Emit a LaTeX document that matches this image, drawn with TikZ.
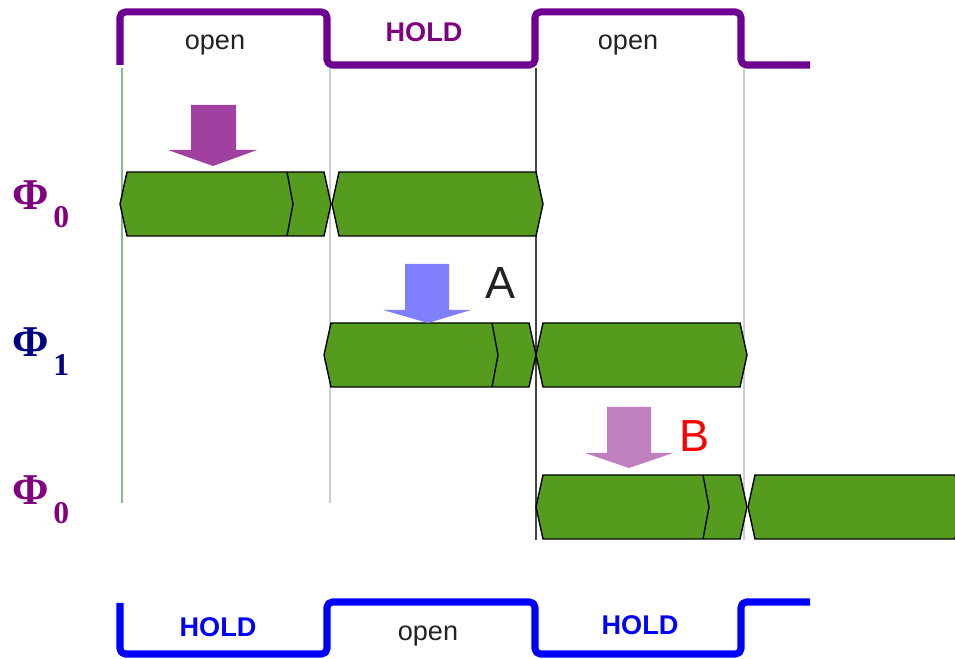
\documentclass[tikz,border=0pt]{standalone}
\usepackage{fontspec}
\setmainfont{Liberation Sans}
\newfontfamily\phifont{Liberation Serif}
\usetikzlibrary{calc}
\definecolor{wvpurple}{HTML}{6E0091}
\definecolor{wvblue}{HTML}{0000FF}
\definecolor{holdpurple}{HTML}{800080}
\definecolor{phinavy}{HTML}{000080}
\definecolor{busgreen}{HTML}{559B1E}
\definecolor{arrA}{HTML}{A040A0}
\definecolor{arrB}{HTML}{8080FF}
\definecolor{arrC}{HTML}{C080C0}
\definecolor{txtgray}{HTML}{222222}
\definecolor{guidegreen}{HTML}{80C080}
\definecolor{guidegray}{HTML}{CCCCCC}
\definecolor{guidedark}{HTML}{444444}
\tikzset{
  every picture/.style={line join=round},
  wave/.style={line width=2pt, rounded corners=1.5pt},
  bus/.style={draw=black, fill=busgreen, line width=0.4pt, line join=miter},
  guide/.style={line width=0.45pt},
  phase/.style={font=\fontsize{7.7}{9}\selectfont, text=txtgray, anchor=base, inner sep=0pt},
  holdlbl/.style={phase, font=\fontsize{7.7}{9}\selectfont\bfseries},
  phi/.style={anchor=base west, inner sep=0pt, font=\phifont\bfseries\fontsize{12.5}{14}\selectfont},
  tag/.style={anchor=base, inner sep=0pt, font=\fontsize{12.8}{15}\selectfont, text=txtgray},
}
\newcommand{\phisub}[1]{Φ\kern1.2pt\raisebox{-1.8mm}{\fontsize{9}{10}\selectfont #1}}

\begin{document}
\begin{tikzpicture}[x=0.01cm, y=-0.01cm]
\useasboundingbox (0,0) rectangle (955,659);

% ---- guide lines at the clock edges
\draw[guide, guidegreen] (122,68) -- (122,503);
\draw[guide, guidegray] (330,68) -- (330,503);
\draw[guide, guidedark] (536,68) -- (536,540);
\draw[guide, guidegray] (744,68) -- (744,540);

% ---- clock waveforms
\draw[wave, wvpurple] (120,65) -- (120,12) -- (327,12) -- (327,65) -- (535,65)
  -- (535,12) -- (741,12) -- (741,65) -- (810,65);
\draw[wave, wvblue] (120,603) -- (120,654) -- (327,654) -- (327,602) -- (535,602)
  -- (535,654) -- (741,654) -- (741,602) -- (810,602);

\node[phase] (topopen1) at (215,50) {open};
\node[holdlbl, text=holdpurple] (tophold) at (424,42) {HOLD};
\node[phase] (topopen2) at (628,50) {open};
\node[holdlbl, text=wvblue] (bothold1) at (218,637) {HOLD};
\node[phase] (botopen) at (428,641) {open};
\node[holdlbl, text=wvblue] (bothold2) at (640,635) {HOLD};

% ---- data valid windows, one row per phase
\foreach \yc/\xl/\xr in {204/120/331, 204/332/543, 355/324/536,
    355/536/747, 507/536/747, 507/748/962} {
  \draw[bus] (\xl,\yc) -- (\xl+7,\yc-32) -- (\xr-7,\yc-32) -- (\xr,\yc)
    -- (\xr-7,\yc+32) -- (\xl+7,\yc+32) -- cycle;
}
\foreach \yc/\xi in {204/287, 355/492, 507/703} {
  \draw[bus, fill=none] (\xi,\yc-32) -- (\xi+6,\yc) -- (\xi,\yc+32);
}

% ---- sampling arrows
\foreach \c/\sl/\sr/\st/\hy/\hl/\hr/\tx/\ty in {
    arrA/191/236/105/150/168/257/213/166,
    arrB/405/449/264/310/383/471/428/323,
    arrC/607/651/407/453/585/673/629/468} {
  \fill[\c] (\sl,\st) -- (\sr,\st) -- (\sr,\hy) -- (\hr,\hy) -- (\tx,\ty)
    -- (\hl,\hy) -- (\sl,\hy) -- cycle;
}
\node[tag] (tagA) at (501,299) {A};
\node[tag, text=red] (tagB) at (694,452) {B};

% ---- phase names
\node[phi, text=holdpurple] (phizero) at (12,210) {\phisub{0}};
\node[phi, text=phinavy] (phione) at (12,357) {\phisub{1}};
\node[phi, text=holdpurple] (phizeroagain) at (12,505) {\phisub{0}};

\end{tikzpicture}
\end{document}
